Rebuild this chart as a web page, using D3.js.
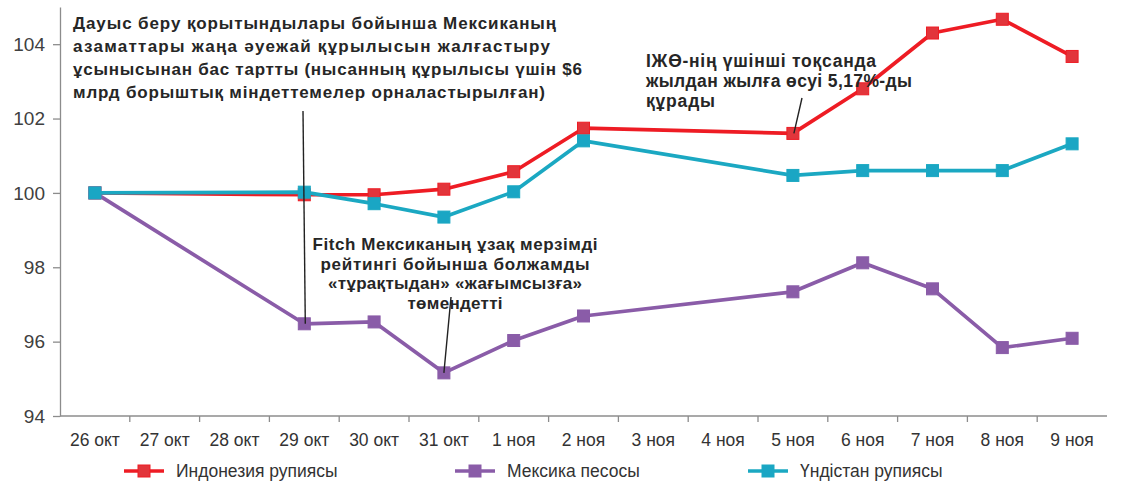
<!DOCTYPE html>
<html><head><meta charset="utf-8">
<script src="https://cdn.jsdelivr.net/npm/d3@7"></script>
<style>
body{margin:0;background:#fff;}
svg{display:block;}
</style></head>
<body><svg id="c" width="1121" height="486"></svg>
<script>
const categories = ["26 окт","27 окт","28 окт","29 окт","30 окт","31 окт","1 ноя","2 ноя","3 ноя","4 ноя","5 ноя","6 ноя","7 ноя","8 ноя","9 ноя"];
const indonesia = [100, null, null, 99.95, 99.95, 100.1, 100.57, 101.74, null, null, 101.6, 102.8, 104.3, 104.67, 103.67];
const mexico    = [100, null, null, 96.48, 96.53, 95.16, 96.03, 96.69, null, null, 97.34, 98.12, 97.42, 95.84, 96.09];
const india     = [100, null, null, 100.02, 99.71, 99.35, 100.03, 101.4, null, null, 100.47, 100.6, 100.6, 100.6, 101.32];
const yTicks = [94, 96, 98, 100, 102, 104];
const seriesNames = ["Индонезия рупиясы", "Мексика песосы", "Үндістан рупиясы"];
const seriesColors = ["#ee1c24", "#8a5ca8", "#1ba8c2"];
const markerColors = ["#e2353b", "#8a5ca8", "#1aa6c4"];
const note1 = ["Дауыс беру қорытындылары бойынша Мексиканың",
               "азаматтары жаңа әуежай құрылысын жалғастыру",
               "ұсынысынан бас тартты (нысанның құрылысы үшін $6",
               "млрд борыштық міндеттемелер орналастырылған)"];
const note2 = ["Fitch Мексиканың ұзақ мерзімді",
               "рейтингі бойынша болжамды",
               "«тұрақтыдан» «жағымсызға»",
               "төмендетті"];
const note3 = ["ІЖӨ-нің үшінші тоқсанда",
               "жылдан жылға өсуі 5,17%-ды",
               "құрады"];

(function(){
const svg = d3.select("#c");
const mL = 60, mR = 1107, mT = 7, mB = 416;
const x = d3.scaleBand().domain(categories).range([mL, mR]);
const y = d3.scaleLinear().domain([94, 105]).range([mB, mT]);
const cx = c => x(c) + x.bandwidth() / 2;

// axes
const yAxis = svg.append("g").attr("transform", `translate(${mL},0)`)
  .call(d3.axisLeft(y).tickValues(yTicks).tickSize(7).tickSizeOuter(0).tickPadding(8));
yAxis.select(".domain").attr("stroke", "#8c8c8c").attr("stroke-width", 1.3);
yAxis.selectAll(".tick line").attr("stroke", "#8c8c8c").attr("stroke-width", 1.3);
yAxis.selectAll(".tick text").attr("font-family", "Liberation Sans, Arial, sans-serif")
  .attr("font-size", 19).attr("fill", "#404040");

const xAxisG = svg.append("g").attr("transform", `translate(0,${mB})`);
xAxisG.append("line").attr("x1", mL).attr("x2", mR).attr("stroke", "#8c8c8c").attr("stroke-width", 1.3);
xAxisG.selectAll("line.t").data(categories.slice(1)).join("line").attr("class", "t")
  .attr("x1", d => x(d)).attr("x2", d => x(d)).attr("y1", 0).attr("y2", 6)
  .attr("stroke", "#8c8c8c").attr("stroke-width", 1.3);
xAxisG.selectAll("text").data(categories).join("text")
  .attr("x", d => cx(d)).attr("y", 30).attr("text-anchor", "middle")
  .attr("font-family", "Liberation Sans Narrow, Liberation Sans, Arial, sans-serif")
  .attr("font-size", 17.5).attr("fill", "#333").text(d => d);

// series
const data = [indonesia, mexico, india];
const line = d3.line().x(d => cx(d.c)).y(d => y(d.v));
data.forEach((vals, i) => {
  const pts = categories.map((c, j) => ({c, v: vals[j]})).filter(d => d.v !== null);
  svg.append("path").datum(pts).attr("d", line).attr("fill", "none")
    .attr("stroke", seriesColors[i]).attr("stroke-width", 3.7).attr("stroke-linejoin", "round");
  svg.selectAll(null).data(pts).join("rect")
    .attr("x", d => cx(d.c) - 6).attr("y", d => y(d.v) - 6).attr("width", 12).attr("height", 12)
    .attr("fill", markerColors[i]).attr("stroke", seriesColors[i]).attr("stroke-width", 1);
});

// annotation pointer lines
const ann = svg.append("g").attr("stroke", "#222").attr("stroke-width", 1.4);
ann.append("line").attr("x1", 303).attr("y1", 111).attr("x2", cx("29 окт") + 1).attr("y2", y(mexico[3]));
ann.append("line").attr("x1", 451).attr("y1", 297).attr("x2", cx("31 окт")).attr("y2", y(mexico[5]));
ann.append("line").attr("x1", 802).attr("y1", 98).attr("x2", cx("5 ноя") + 1).attr("y2", y(indonesia[10]));

const font = "Liberation Sans, Arial, sans-serif";
// note 1 (justified)
const n1w = [483, 477, 509, 472];
note1.forEach((t, i) => {
  svg.append("text").attr("x", 73).attr("y", 29 + i * 23)
    .attr("font-family", font).attr("font-weight", "bold").attr("font-size", 17)
    .attr("fill", "#262626").attr("textLength", n1w[i]).attr("lengthAdjust", "spacing").text(t);
});
const n2w = [285, 269, 254, 95];
note2.forEach((t, i) => {
  svg.append("text").attr("x", 455 - n2w[i] / 2).attr("y", 250 + i * 19.5)
    .attr("font-family", font).attr("font-weight", "bold").attr("font-size", 17)
    .attr("fill", "#262626").attr("textLength", n2w[i]).attr("lengthAdjust", "spacing").text(t);
});
const n3w = [230, 266, 69];
note3.forEach((t, i) => {
  svg.append("text").attr("x", 646).attr("y", 67 + i * 20)
    .attr("font-family", font).attr("font-weight", "bold").attr("font-size", 17.5)
    .attr("fill", "#262626").attr("textLength", n3w[i]).attr("lengthAdjust", "spacing").text(t);
});

// legend
const legX = [124, 455, 748];
seriesNames.forEach((n, i) => {
  const g = svg.append("g").attr("transform", `translate(${legX[i]},471)`);
  g.append("line").attr("x1", 0).attr("x2", 40).attr("stroke", seriesColors[i]).attr("stroke-width", 3.7);
  g.append("rect").attr("x", 14).attr("y", -6).attr("width", 12).attr("height", 12)
    .attr("fill", markerColors[i]).attr("stroke", seriesColors[i]);
  g.append("text").attr("x", 52).attr("y", 6).attr("font-family", "Liberation Sans Narrow, Liberation Sans, Arial, sans-serif")
    .attr("font-size", 17.5).attr("fill", "#333").text(n);
});
})();
</script></body></html>
